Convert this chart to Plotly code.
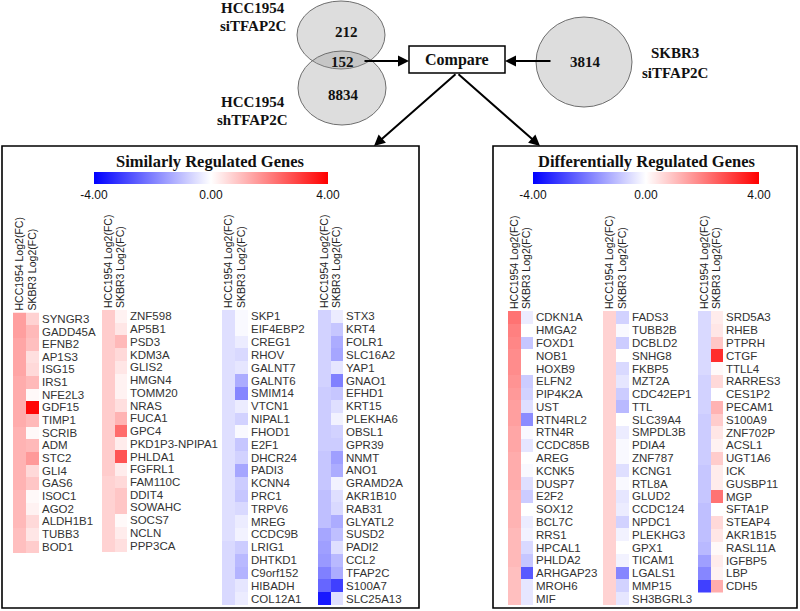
import plotly.graph_objects as go

W, H = 800, 611
COLS = ["HCC1954 Log2(FC)", "SKBR3 Log2(FC)"]
TICKS_V = [-4, 0, 4]
TICKS_T = ["-4.00", "0.00", "4.00"]

# ---------------- Similarly regulated genes ----------------
sim1_genes = ["SYNGR3", "GADD45A", "EFNB2", "AP1S3", "ISG15", "IRS1", "NFE2L3", "GDF15", "TIMP1", "SCRIB",
              "ADM", "STC2", "GLI4", "GAS6", "ISOC1", "AGO2", "ALDH1B1", "TUBB3", "BOD1"]
sim1_hcc = [1.5, 1.5, 1.4, 1.4, 1.4, 1.3, 1.3, 1.3, 1.3, 1.2, 1.2, 1.2, 1.2, 1.2, 1.1, 1.1, 1.1, 1.0, 1.0]
sim1_skbr3 = [0.7, 1.1, 1.0, 0.5, 0.6, 1.1, 0.1, 3.9, 1.1, 0.1, 1.1, 1.6, 0.6, 0.9, 0.1, 0.2, 0.6, 0.4, 0.8]

sim2_genes = ["ZNF598", "AP5B1", "PSD3", "KDM3A", "GLIS2", "HMGN4", "TOMM20", "NRAS", "FUCA1", "GPC4",
              "PKD1P3-NPIPA1", "PHLDA1", "FGFRL1", "FAM110C", "DDIT4", "SOWAHC", "SOCS7", "NCLN", "PPP3CA"]
sim2_hcc = [0.8, 0.8, 0.8, 0.8, 0.8, 0.8, 0.8, 0.8, 0.8, 0.8, 0.8, 0.8, 0.8, 0.7, 0.7, 0.7, 0.7, 0.7, 0.7]
sim2_skbr3 = [0.2, 0.4, 1.1, 0.6, 0.4, 0.2, 0.2, 0.5, 1.2, 2.3, 0.3, 2.7, 0.3, 0.6, 0.9, 0.9, 0.1, 0.3, 0.5]

sim3_genes = ["SKP1", "EIF4EBP2", "CREG1", "RHOV", "GALNT7", "GALNT6", "SMIM14", "VTCN1", "NIPAL1", "FHOD1",
              "E2F1", "DHCR24", "PADI3", "KCNN4", "PRC1", "TRPV6", "MREG", "CCDC9B", "LRIG1", "DHTKD1",
              "C9orf152", "HIBADH", "COL12A1"]
sim3_hcc = [-0.5, -0.5, -0.5, -0.5, -0.5, -0.5, -0.5, -0.5, -0.5, -0.5, -0.5, -0.5, -0.5, -0.5, -0.5, -0.5,
            -0.5, -0.5, -0.6, -0.6, -0.6, -0.6, -0.6]
sim3_skbr3 = [-0.1, -0.1, -0.3, -0.6, -0.4, -1.3, -1.9, -0.3, -0.7, -0.1, -0.9, -0.7, -1.4, -0.8, -0.9, -0.6,
              -0.3, -0.2, -0.8, -1.1, -1.2, -0.4, -0.3]

sim4_genes = ["STX3", "KRT4", "FOLR1", "SLC16A2", "YAP1", "GNAO1", "EFHD1", "KRT15", "PLEKHA6", "OBSL1",
              "GPR39", "NNMT", "ANO1", "GRAMD2A", "AKR1B10", "RAB31", "GLYATL2", "SUSD2", "PADI2", "CCL2",
              "TFAP2C", "S100A7", "SLC25A13"]
sim4_hcc = [-0.7, -0.7, -0.7, -0.7, -0.7, -0.7, -0.8, -0.8, -0.8, -0.8, -0.8, -0.9, -0.9, -0.9, -1.0, -1.0,
            -1.0, -1.4, -1.5, -1.6, -2.0, -2.4, -3.6]
sim4_skbr3 = [-0.3, -0.9, -1.3, -1.4, -0.4, -2.0, -0.9, -0.5, -0.2, -0.7, -0.8, -1.5, -1.3, -0.2, -0.5, -0.6,
              -1.3, -1.0, -0.5, -1.1, -1.3, -3.0, -0.5]

# ---------------- Differentially regulated genes ----------------
dif1_genes = ["CDKN1A", "HMGA2", "FOXD1", "NOB1", "HOXB9", "ELFN2", "PIP4K2A", "UST", "RTN4RL2", "RTN4R",
              "CCDC85B", "AREG", "KCNK5", "DUSP7", "E2F2", "SOX12", "BCL7C", "RRS1", "HPCAL1", "PHLDA2",
              "ARHGAP23", "MROH6", "MIF"]
dif1_hcc = [2.2, 2.0, 1.9, 1.8, 1.8, 1.7, 1.6, 1.5, 1.5, 1.4, 1.4, 1.3, 1.3, 1.3, 1.2, 1.2, 1.2, 1.1, 1.1, 1.1,
            1.0, 1.0, 1.0]
dif1_skbr3 = [-0.3, 0.0, -0.9, 0.0, 0.0, -0.8, -0.7, -0.5, -1.8, -0.1, -0.4, 0.0, -0.1, -0.5, -0.8, 0.0, -0.3,
              -0.2, -0.6, -0.9, -2.6, -0.4, -0.4]

dif2_genes = ["FADS3", "TUBB2B", "DCBLD2", "SNHG8", "FKBP5", "MZT2A", "CDC42EP1", "TTL", "SLC39A4", "SMPDL3B",
              "PDIA4", "ZNF787", "KCNG1", "RTL8A", "GLUD2", "CCDC124", "NPDC1", "PLEKHG3", "GPX1", "TICAM1",
              "LGALS1", "MMP15", "SH3BGRL3"]
dif2_hcc = [0.7] * 23
dif2_skbr3 = [-0.7, -0.1, -0.8, 0.0, -0.6, -0.4, -0.8, -1.1, 0.0, -0.3, -0.1, -0.1, -0.5, -0.1, -0.4, -0.3,
              -0.7, -0.2, 0.0, -0.2, -1.9, -0.7, -0.4]

dif3_genes = ["SRD5A3", "RHEB", "PTPRH", "CTGF", "TTLL4", "RARRES3", "CES1P2", "PECAM1", "S100A9", "ZNF702P",
              "ACSL1", "UGT1A6", "ICK", "GUSBP11", "MGP", "SFTA1P", "STEAP4", "AKR1B15", "RASL11A", "IGFBP5",
              "LBP", "CDH5"]
dif3_hcc = [-0.6, -0.6, -0.6, -0.6, -0.6, -0.7, -0.7, -0.7, -0.8, -0.8, -0.8, -0.8, -0.9, -0.9, -0.9, -1.0,
            -1.0, -1.0, -1.1, -1.5, -1.9, -3.0]
dif3_skbr3 = [0.3, 0.4, 0.9, 3.3, 0.1, 0.6, 0.0, 1.2, 0.8, 0.4, 0.2, 0.8, 0.3, 0.3, 2.2, 0.0, 0.6, 0.4, 0.1, 0.3,
              0.2, 1.3]

# Venn counts / labels
venn_top = "212"
venn_overlap = "152"
venn_bottom = "8834"
venn_right = "3814"

# ---------------- layout helpers (pixel -> paper) ----------------
def fx(x):
    return x / W


def fy(y):
    return 1 - y / H


SANS = "Liberation Sans, Arial, sans-serif"
SERIF = "Liberation Serif, Times New Roman, serif"
COLORSCALE = [[0.0, "rgb(0,0,255)"], [0.5, "rgb(255,255,255)"], [1.0, "rgb(255,0,0)"]]

panels = [
    (sim1_genes, sim1_hcc, sim1_skbr3, 13, 39, 312.5, 553, "coloraxis"),
    (sim2_genes, sim2_hcc, sim2_skbr3, 102, 127, 310, 552, "coloraxis"),
    (sim3_genes, sim3_hcc, sim3_skbr3, 222, 248, 310, 605, "coloraxis"),
    (sim4_genes, sim4_hcc, sim4_skbr3, 318, 343, 310, 605, "coloraxis"),
    (dif1_genes, dif1_hcc, dif1_skbr3, 508, 533, 311, 605, "coloraxis2"),
    (dif2_genes, dif2_hcc, dif2_skbr3, 603, 629, 311, 605, "coloraxis2"),
    (dif3_genes, dif3_hcc, dif3_skbr3, 698, 723, 311, 592.5, "coloraxis2"),
]

fig = go.Figure()
layout = {}
for i, (genes, hcc, skb, x0, x1, y0, y1, ca) in enumerate(panels, start=1):
    sfx = "" if i == 1 else str(i)
    fig.add_trace(go.Heatmap(
        z=[[h, s] for h, s in zip(hcc, skb)], x=COLS, y=genes, coloraxis=ca,
        xaxis="x" + sfx, yaxis="y" + sfx, hoverinfo="skip", xgap=0, ygap=0,
    ))
    layout["xaxis" + sfx] = dict(
        domain=[fx(x0), fx(x1)], anchor="y" + sfx, side="top", tickangle=-90,
        tickmode="array", tickvals=COLS, ticktext=COLS,
        showgrid=False, zeroline=False, showline=False, ticks="", fixedrange=True,
        tickfont=dict(family=SANS, size=10.5, color="#222"), ticklabelstandoff=1,
    )
    layout["yaxis" + sfx] = dict(
        domain=[fy(y1), fy(y0)], anchor="x" + sfx, side="right", autorange="reversed",
        tickmode="array", tickvals=genes, ticktext=genes,
        showgrid=False, zeroline=False, showline=False, ticks="", fixedrange=True,
        tickfont=dict(family=SANS, size=11.5, color="#333"), ticklabelstandoff=2,
    )

def cbar(x0, x1):
    return dict(
        orientation="h", x=fx((x0 + x1) / 2), xanchor="center", y=fy(172), yanchor="top",
        len=x1 - x0, lenmode="pixels", thickness=12, thicknessmode="pixels",
        xpad=0, ypad=0, outlinewidth=0, tickvals=TICKS_V, ticktext=TICKS_T, ticks="",
        tickfont=dict(family=SANS, size=12, color="#111"),
    )

layout["coloraxis"] = dict(colorscale=COLORSCALE, cmin=-4, cmax=4, colorbar=cbar(94, 328))
layout["coloraxis2"] = dict(colorscale=COLORSCALE, cmin=-4, cmax=4, colorbar=cbar(533, 759))

shapes = []
# panels' frames
shapes.append(dict(type="rect", xref="paper", yref="paper", x0=fx(2), x1=fx(419), y0=fy(608), y1=fy(146),
                   line=dict(color="black", width=1.6), layer="below"))
shapes.append(dict(type="rect", xref="paper", yref="paper", x0=fx(493), x1=fx(797), y0=fy(608), y1=fy(146),
                   line=dict(color="black", width=1.6), layer="below"))
# venn circles
for (cx, cy, rx, ry) in [(341, 35, 44, 34), (342, 88, 44, 37), (584, 62, 48, 45)]:
    shapes.append(dict(type="circle", xref="paper", yref="paper",
                       x0=fx(cx - rx), x1=fx(cx + rx), y0=fy(cy + ry), y1=fy(cy - ry),
                       fillcolor="rgba(150,150,150,0.32)", line=dict(color="rgb(110,110,110)", width=1)))
# compare box
shapes.append(dict(type="rect", xref="paper", yref="paper", x0=fx(409), x1=fx(505), y0=fy(73), y1=fy(46),
                   fillcolor="white", line=dict(color="black", width=1.5)))

annotations = []

def txt(x, y, text, size, family=SERIF, color="#111"):
    annotations.append(dict(x=fx(x), y=fy(y), xref="paper", yref="paper", text=text, showarrow=False,
                            xanchor="center", yanchor="middle", font=dict(family=family, size=size, color=color)))

txt(253, 8, "<b>HCC1954</b>", 15)
txt(253, 26, "<b>siTFAP2C</b>", 15)
txt(253, 102, "<b>HCC1954</b>", 15)
txt(253, 120, "<b>shTFAP2C</b>", 15)
txt(675, 53, "<b>SKBR3</b>", 15)
txt(675, 73, "<b>siTFAP2C</b>", 15)
txt(346, 32, "<b>" + venn_top + "</b>", 15)
txt(342, 62, "<b>" + venn_overlap + "</b>", 15)
txt(343, 95, "<b>" + venn_bottom + "</b>", 15)
txt(585, 62, "<b>" + venn_right + "</b>", 15)
txt(457, 60, "<b>Compare</b>", 16)
txt(210, 162, "<b>Similarly Regulated Genes</b>", 16.5)
txt(646, 162, "<b>Differentially Regulated Genes</b>", 16.5)

def arrow(tx, ty, hx, hy):
    annotations.append(dict(x=fx(hx), y=fy(hy), xref="paper", yref="paper", ax=tx - hx, ay=ty - hy,
                            text="", showarrow=True, arrowhead=2, arrowsize=1.1, arrowwidth=2,
                            arrowcolor="black"))

arrow(363, 61, 409, 61)
arrow(552, 61, 505, 61)
arrow(457, 73, 374, 146)
arrow(457, 73, 540, 146)

fig.update_layout(
    width=W, height=H, margin=dict(l=0, r=0, t=0, b=0),
    paper_bgcolor="white", plot_bgcolor="white",
    shapes=shapes, annotations=annotations, showlegend=False, **layout,
)

fig.write_html("out.html", config={"displayModeBar": False},
               post_script="document.body.style.margin='0';document.body.style.padding='0';")
